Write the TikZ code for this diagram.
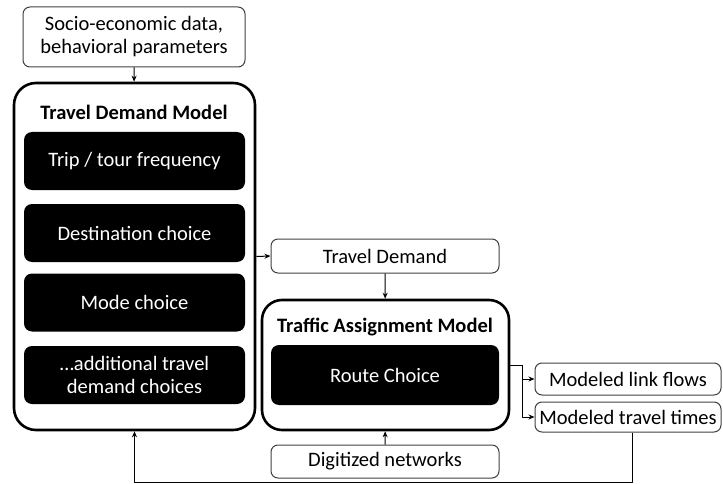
\documentclass[tikz,border=0pt]{standalone}
\usepackage{fontspec}
\setmainfont{Carlito}
\usetikzlibrary{arrows.meta}
\begin{document}
\begin{tikzpicture}[x=1pt, y=-1pt, font=\fontsize{20.5}{23}\selectfont, line join=round, >={Stealth[length=6pt,width=5pt]}, line width=1pt,
	inbox/.style={draw=black!75, rounded corners=7pt, align=center, inner sep=0pt},
	model/.style={draw, line width=2.6pt, rounded corners=22pt, inner sep=0pt},
	choice/.style={fill=black, text=white, rounded corners=8pt, align=center, inner sep=0pt, minimum width=221pt, minimum height=58pt}]
	\useasboundingbox (0,0) rectangle (723,484);
	% inputs
	\node[inbox, minimum width=222pt, minimum height=60pt] (src) at (134,37) {Socio-economic data,\\behavioral parameters};
	% travel demand model
	\node[model, minimum width=241pt, minimum height=347pt] (tdm) at (134.5,256.5) {};
	\node[font=\fontsize{20.5}{23}\selectfont\bfseries] (tdmtitle) at (134,112) {Travel Demand Model};
	\node[choice] (trip) at (134.5,161) {Trip / tour frequency};
	\node[choice] (dest) at (134.5,233) {Destination choice};
	\node[choice] (mode) at (134.5,302.5) {Mode choice};
	\node[choice] (add) at (134.5,375) {\ldots additional travel\\demand choices};
	% traffic assignment
	\node[inbox, minimum width=228pt, minimum height=34pt] (td) at (385,256) {Travel Demand};
	\node[model, rounded corners=20pt, minimum width=247pt, minimum height=130pt] (tam) at (385.5,365) {};
	\node[font=\fontsize{20.5}{23}\selectfont\bfseries] (tamtitle) at (385,327) {Traffic Assignment Model};
	\node[choice, minimum width=228pt, minimum height=60pt] (route) at (385,375) {Route Choice};
	\node[inbox, minimum width=228pt, minimum height=33pt] (dig) at (385,461.5) {Digitized networks};
	% outputs
	\node[inbox, minimum width=186pt, minimum height=32pt] (flows) at (628,379) {Modeled link flows};
	\node[inbox, minimum width=186pt, minimum height=30pt] (times) at (628,417) {Modeled travel times};
	\coordinate (split) at (522,365);
	\coordinate (fb) at (0,482);
	% connectors
	\draw[->] (src) -- (tdm);
	\draw[->] (tdm.east) -- (td.west);
	\draw[->] (td) -- (tam);
	\draw[->] (dig) -- (tam);
	\draw (tam.east) -- (split);
	\draw[->] (split) |- (flows.west);
	\draw[->] (split) |- (times.west);
	\draw[->] (times.south -| 632,0) |- (tdm.south |- fb) -- (tdm.south);
\end{tikzpicture}
\end{document}
